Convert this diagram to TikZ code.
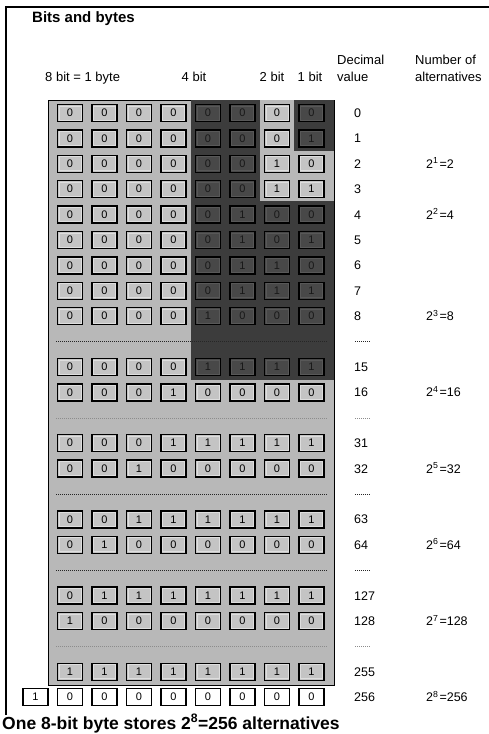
\documentclass[tikz,border=0pt]{standalone}
\usepackage{fontspec}
\setmainfont{Liberation Sans}
\usetikzlibrary{positioning}

\definecolor{panelgray}{RGB}{184,184,184}
\definecolor{boxgray}{RGB}{196,196,196}
\definecolor{boxedge}{RGB}{222,222,222}
\definecolor{darkarea}{RGB}{60,60,60}
\definecolor{darkbox}{RGB}{72,72,72}
\definecolor{darkedge}{RGB}{88,88,88}
\definecolor{darkdigit}{RGB}{24,24,24}

\tikzset{
  bitbox/.style={draw=black, line width=1.4pt, minimum width=25pt, minimum height=17pt, inner sep=0pt, font=\fontsize{11}{13}\selectfont},
  inneredge/.style={path picture={\draw[#1, line width=0.7pt]
      ([shift={(1.5pt,1.5pt)}]path picture bounding box.south west) rectangle
      ([shift={(-1.5pt,-1.5pt)}]path picture bounding box.north east);}},
  bitl/.style={bitbox, fill=boxgray, inneredge=boxedge},
  bitd/.style={bitbox, fill=darkbox, text=darkdigit, inneredge=darkedge},
  bitw/.style={bitbox, fill=white, line width=1.2pt},
  lbl/.style={inner sep=0pt, font=\fontsize{12.5}{14}\selectfont},
  head/.style={inner sep=0pt, font=\fontsize{13}{15}\selectfont},
  sepline/.style={black!85, line width=0.7pt, dash pattern=on 1pt off 1pt},
  fainter/.style={sepline, black!45, line width=0.6pt},
}

% one row of bit boxes: slot, list of bit/shade
\newcommand{\bitrow}[2]{%
  \foreach \b/\s [count=\i from 0] in {#2}
    \node[bit\s] (b#1-\i) at ({70+34.5*\i},{113+25.4*#1}) {\b};}

\begin{document}
\begin{tikzpicture}[x=1pt, y=-1pt]
    \useasboundingbox (0,0) rectangle (489,734);
    % frame
    \draw[line width=1.5pt] (6,715) -- (6,7) -- (489,7);
    \node[lbl, font=\bfseries\fontsize{15}{18}\selectfont, anchor=base west] (title) at (32,22) {Bits and bytes};

    % headings
    \node[head, anchor=base west] (hdbyte) at (45,81) {8 bit = 1 byte};
    \node[head, anchor=base] (hdfour) at (194,81) {4 bit};
    \node[head, anchor=base] (hdtwo) at (272,81) {2 bit};
    \node[head, anchor=base] (hdone) at (310,81) {1 bit};
    \node[head, anchor=base west] (hddec) at (337,64) {Decimal};
    \node[head, anchor=base west] (hdval) at (337,81) {value};
    \node[head, anchor=base west] (hdnum) at (415,64) {Number of};
    \node[head, anchor=base west] (hdalt) at (415,81) {alternatives};

    % panel and shaded areas
    \draw[fill=panelgray, line width=0.8pt] (48,100) rectangle (334,685);
    \fill[darkarea] (190.75,100) rectangle (334,379.5);
    \fill[panelgray] (259.75,100) rectangle (334,200.5);
    \fill[darkarea] (294.25,100) rectangle (334,150.5);

    % dotted gaps
    \foreach \s in {9,15,18} {
      \draw[sepline] (56,{113+25.4*\s}) -- (327,{113+25.4*\s});
      \draw[sepline] (355,{113+25.4*\s}) -- (371,{113+25.4*\s});
    }
    \foreach \s in {12,21} {
      \draw[fainter] (56,{113+25.4*\s}) -- (327,{113+25.4*\s});
      \draw[fainter] (355,{113+25.4*\s}) -- (371,{113+25.4*\s});
    }

    % bits
    \bitrow{0}{0/l,0/l,0/l,0/l,0/d,0/d,0/l,0/d}
    \bitrow{1}{0/l,0/l,0/l,0/l,0/d,0/d,0/l,1/d}
    \bitrow{2}{0/l,0/l,0/l,0/l,0/d,0/d,1/l,0/l}
    \bitrow{3}{0/l,0/l,0/l,0/l,0/d,0/d,1/l,1/l}
    \bitrow{4}{0/l,0/l,0/l,0/l,0/d,1/d,0/d,0/d}
    \bitrow{5}{0/l,0/l,0/l,0/l,0/d,1/d,0/d,1/d}
    \bitrow{6}{0/l,0/l,0/l,0/l,0/d,1/d,1/d,0/d}
    \bitrow{7}{0/l,0/l,0/l,0/l,0/d,1/d,1/d,1/d}
    \bitrow{8}{0/l,0/l,0/l,0/l,1/d,0/d,0/d,0/d}
    \bitrow{10}{0/l,0/l,0/l,0/l,1/d,1/d,1/d,1/d}
    \bitrow{11}{0/l,0/l,0/l,1/l,0/l,0/l,0/l,0/l}
    \bitrow{13}{0/l,0/l,0/l,1/l,1/l,1/l,1/l,1/l}
    \bitrow{14}{0/l,0/l,1/l,0/l,0/l,0/l,0/l,0/l}
    \bitrow{16}{0/l,0/l,1/l,1/l,1/l,1/l,1/l,1/l}
    \bitrow{17}{0/l,1/l,0/l,0/l,0/l,0/l,0/l,0/l}
    \bitrow{19}{0/l,1/l,1/l,1/l,1/l,1/l,1/l,1/l}
    \bitrow{20}{1/l,0/l,0/l,0/l,0/l,0/l,0/l,0/l}
    \bitrow{22}{1/l,1/l,1/l,1/l,1/l,1/l,1/l,1/l}
    \foreach \b [count=\i from 0] in {1,0,0,0,0,0,0,0,0}
      \node[bitw] (w-\i) at ({35.5+34.5*\i},697) {\b};

    % decimal values
    \foreach \s/\v in {0/0,1/1,2/2,3/3,4/4,5/5,6/6,7/7,8/8,10/15,11/16,13/31,14/32,16/63,17/64,19/127,20/128,22/255,23/256}
      \node[lbl, anchor=base west] (dec\v) at (354,{117.5+25.4*\s}) {\v};

    % number of alternatives
    \foreach \s/\e/\v in {2/1/2,4/2/4,8/3/8,11/4/16,14/5/32,17/6/64,20/7/128,23/8/256}
      \node[lbl, anchor=base west] (alt\e) at (426,{117.5+25.4*\s}) {2\textsuperscript{\e}\kern1pt=\v};

    \node[lbl, font=\bfseries\fontsize{17.5}{20}\selectfont, anchor=base west] (caption) at (2,729) {One 8-bit byte stores 2\textsuperscript{8}=256 alternatives};
\end{tikzpicture}
\end{document}
